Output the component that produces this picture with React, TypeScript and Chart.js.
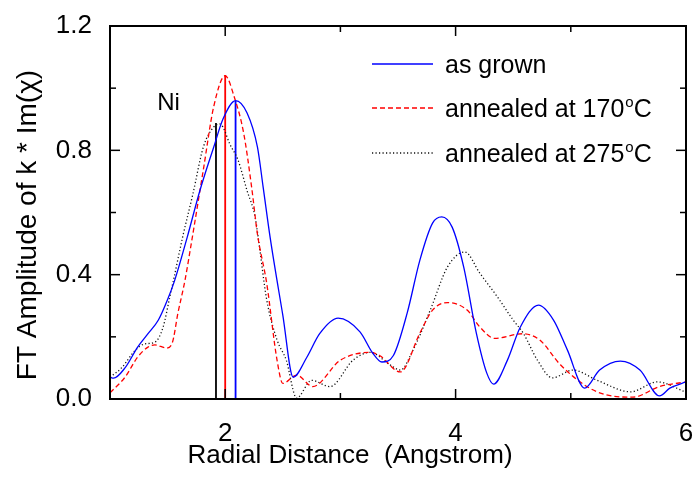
import React, { useEffect, useRef } from "react";
import { Chart, registerables } from "chart.js";

Chart.register(...registerables);

const FONT = "'Liberation Sans', Arial, sans-serif";

// ---- data ----
const seriesNames = ["as grown", "annealed at 170°C", "annealed at 275°C"];

const asGrownR = [1.0, 1.03, 1.13, 1.24, 1.33, 1.42, 1.5, 1.56, 1.67, 1.78, 1.9, 1.98, 2.09, 2.19, 2.28, 2.33, 2.39, 2.5, 2.59, 2.71, 2.82, 2.98, 3.17, 3.28, 3.36, 3.46, 3.58, 3.69, 3.8, 3.88, 3.97, 4.07, 4.18, 4.27, 4.33, 4.45, 4.56, 4.72, 4.85, 4.97, 5.12, 5.25, 5.43, 5.6, 5.77, 5.86, 6.0];
const asGrownA = [0.07, 0.067, 0.1, 0.167, 0.21, 0.254, 0.32, 0.38, 0.52, 0.67, 0.81, 0.9, 0.96, 0.92, 0.81, 0.68, 0.52, 0.27, 0.07, 0.135, 0.21, 0.26, 0.216, 0.148, 0.119, 0.14, 0.277, 0.447, 0.566, 0.586, 0.553, 0.425, 0.212, 0.084, 0.048, 0.125, 0.23, 0.302, 0.254, 0.158, 0.035, 0.093, 0.122, 0.093, 0.01, 0.035, 0.055];

const ann170R = [1.0, 1.13, 1.24, 1.33, 1.39, 1.49, 1.54, 1.59, 1.65, 1.71, 1.81, 1.9, 2.0, 2.08, 2.16, 2.23, 2.28, 2.36, 2.45, 2.5, 2.62, 2.76, 3.0, 3.26, 3.34, 3.52, 3.69, 3.8, 3.93, 4.1, 4.21, 4.34, 4.58, 4.73, 4.91, 5.14, 5.31, 5.54, 5.77, 6.0];
const ann170A = [0.02, 0.07, 0.135, 0.167, 0.174, 0.164, 0.18, 0.277, 0.38, 0.51, 0.737, 0.94, 1.04, 0.97, 0.856, 0.68, 0.53, 0.373, 0.125, 0.05, 0.077, 0.04, 0.125, 0.15, 0.14, 0.087, 0.212, 0.286, 0.31, 0.286, 0.232, 0.195, 0.21, 0.19, 0.11, 0.04, 0.013, 0.006, 0.04, 0.055];

const ann275R = [1.0, 1.1, 1.22, 1.3, 1.39, 1.46, 1.52, 1.55, 1.63, 1.72, 1.81, 1.9, 1.95, 1.98, 2.04, 2.11, 2.19, 2.26, 2.29, 2.36, 2.45, 2.53, 2.62, 2.75, 2.91, 3.11, 3.26, 3.43, 3.52, 3.63, 3.78, 3.93, 4.08, 4.21, 4.36, 4.5, 4.59, 4.71, 4.84, 5.02, 5.23, 5.52, 5.75, 6.0];
const ann275A = [0.07, 0.1, 0.157, 0.177, 0.183, 0.23, 0.33, 0.38, 0.52, 0.66, 0.81, 0.875, 0.885, 0.875, 0.82, 0.77, 0.67, 0.585, 0.51, 0.32, 0.19, 0.125, 0.003, 0.06, 0.04, 0.125, 0.15, 0.11, 0.093, 0.157, 0.286, 0.425, 0.473, 0.405, 0.33, 0.254, 0.21, 0.125, 0.068, 0.093, 0.06, 0.023, 0.055, 0.022];

// first-shell peak markers (275°C, 170°C, as grown)
const peakR = [1.92, 2.0, 2.09];
const peakA = [0.888, 1.042, 0.959];

const xMajorTicks = [2, 4, 6];
const xMinorTicks = [1, 3, 5];
const yMajorTicks = [0, 0.4, 0.8, 1.2];
const yMinorTicks = [0.2, 0.6, 1.0];

const annotationText = "Ni";
const xTitle = "Radial Distance  (Angstrom)";
const yTitle = "FT Amplitude of k * Im(\u03C7)";

// ---- styles ----
const seriesStyles = [
  { color: "#0000ff", dash: [] as number[], width: 1.3 },
  { color: "#ff0000", dash: [5, 3], width: 1.3 },
  { color: "#111111", dash: [1.2, 2.3], width: 1.3 },
];
const peakColors = ["#000000", "#ff0000", "#0000ff"];

const toPts = (r: number[], a: number[]) => r.map((x, i) => ({ x, y: a[i] }));

const drawLabelWithDegree = (ctx: CanvasRenderingContext2D, text: string, x: number, y: number, size: number) => {
  const parts = text.split("°");
  ctx.font = `${size}px ${FONT}`;
  ctx.fillText(parts[0], x, y);
  let cx = x + ctx.measureText(parts[0]).width;
  if (parts.length > 1) {
    ctx.font = `${Math.round(size * 0.6)}px ${FONT}`;
    ctx.fillText("o", cx + 1, y - size * 0.42);
    cx += ctx.measureText("o").width + 1;
    ctx.font = `${size}px ${FONT}`;
    ctx.fillText(parts[1], cx, y);
  }
};

const decorPlugin = {
  id: "decor",
  afterDatasetsDraw(chart: any) {
    const { ctx, chartArea, scales } = chart;
    const { left, right, top, bottom } = chartArea;
    const xs = scales.x;
    const ys = scales.y;
    ctx.save();
    ctx.strokeStyle = "#000";
    ctx.lineWidth = 2;
    ctx.strokeRect(left, top, right - left, bottom - top);
    ctx.lineWidth = 1.5;
    const tick = (x1: number, y1: number, x2: number, y2: number) => {
      ctx.beginPath();
      ctx.moveTo(x1, y1);
      ctx.lineTo(x2, y2);
      ctx.stroke();
    };
    yMajorTicks.forEach((v) => {
      const p = ys.getPixelForValue(v);
      tick(left, p, left + 10, p);
      tick(right, p, right - 10, p);
    });
    yMinorTicks.forEach((v) => {
      const p = ys.getPixelForValue(v);
      tick(left, p, left + 6, p);
      tick(right, p, right - 6, p);
    });
    xMajorTicks.forEach((v) => {
      const p = xs.getPixelForValue(v);
      tick(p, bottom, p, bottom - 10);
      tick(p, top, p, top + 10);
    });
    xMinorTicks.forEach((v) => {
      const p = xs.getPixelForValue(v);
      tick(p, bottom, p, bottom - 6);
      tick(p, top, p, top + 6);
    });
    ctx.restore();
  },
  afterDraw(chart: any) {
    const { ctx, chartArea, scales } = chart;
    const { left, top } = chartArea;
    ctx.save();
    ctx.fillStyle = "#000";
    // Ni annotation
    ctx.font = `24px ${FONT}`;
    ctx.textBaseline = "alphabetic";
    ctx.textAlign = "left";
    ctx.fillText(annotationText, scales.x.getPixelForValue(1.41), scales.y.getPixelForValue(0.93));
    // legend
    const lx1 = left + 262;
    const lx2 = left + 323;
    const tx = left + 335;
    const rowY = [top + 38, top + 82, top + 127];
    chart.data.datasets.slice(0, 3).forEach((ds: any, i: number) => {
      ctx.save();
      ctx.strokeStyle = ds.borderColor;
      ctx.lineWidth = ds.borderWidth;
      ctx.setLineDash(ds.borderDash || []);
      ctx.beginPath();
      ctx.moveTo(lx1, rowY[i]);
      ctx.lineTo(lx2, rowY[i]);
      ctx.stroke();
      ctx.restore();
      ctx.fillStyle = "#000";
      drawLabelWithDegree(ctx, ds.label, tx, rowY[i] + 9, 25);
    });
    // axis titles
    ctx.font = `26px ${FONT}`;
    ctx.textAlign = "center";
    ctx.textBaseline = "middle";
    ctx.fillText(xTitle, 350, 456);
    ctx.font = `28px ${FONT}`;
    ctx.translate(28, 225);
    ctx.rotate(-Math.PI / 2);
    ctx.fillText(yTitle, 0, 0);
    ctx.restore();
  },
};

export default function App() {
  const ref = useRef<HTMLCanvasElement | null>(null);
  useEffect(() => {
    if (!ref.current) return;
    const curves = [
      toPts(asGrownR, asGrownA),
      toPts(ann170R, ann170A),
      toPts(ann275R, ann275A),
    ].map((data, i) => ({
      label: seriesNames[i],
      data,
      borderColor: seriesStyles[i].color,
      borderDash: seriesStyles[i].dash,
      borderWidth: seriesStyles[i].width,
      pointRadius: 0,
      fill: false,
      cubicInterpolationMode: "monotone" as const,
    }));
    const peaks = peakR.map((r, i) => ({
      label: "peak" + i,
      data: [
        { x: r, y: 0 },
        { x: r, y: peakA[i] },
      ],
      borderColor: peakColors[i],
      borderWidth: 1.8,
      pointRadius: 0,
      fill: false,
    }));
    const chart = new Chart(ref.current, {
      type: "line",
      data: { datasets: [...curves, ...peaks] as any },
      options: {
        animation: false,
        responsive: false,
        maintainAspectRatio: false,
        layout: { padding: { top: 26, right: 7, left: 0, bottom: 0 } },
        plugins: { legend: { display: false }, tooltip: { enabled: false } },
        scales: {
          x: {
            type: "linear",
            min: 1,
            max: 6,
            grid: { display: false },
            border: { display: false },
            ticks: {
              stepSize: 1,
              autoSkip: false,
              maxRotation: 0,
              padding: 11,
              color: "#000",
              font: { family: FONT, size: 26 },
              callback: (v: any) => (xMajorTicks.includes(Number(v)) ? String(v) : ""),
            },
            afterFit: (s: any) => {
              s.height = 84;
              s.paddingLeft = 0;
              s.paddingRight = 0;
            },
          },
          y: {
            type: "linear",
            min: 0,
            max: 1.2,
            grid: { display: false },
            border: { display: false },
            ticks: {
              stepSize: 0.4,
              padding: 10,
              color: "#000",
              font: { family: FONT, size: 26 },
              callback: (v: any) => Number(v).toFixed(1),
            },
            afterFit: (s: any) => {
              s.width = 110;
              s.paddingTop = 0;
              s.paddingBottom = 0;
            },
          },
        },
      },
      plugins: [decorPlugin],
    });
    return () => chart.destroy();
  }, []);
  return (
    <div style={{ position: "fixed", left: 0, top: 0, width: 693, height: 483, background: "#fff" }}>
      <canvas ref={ref} width={693} height={483} style={{ width: 693, height: 483 }} />
    </div>
  );
}
